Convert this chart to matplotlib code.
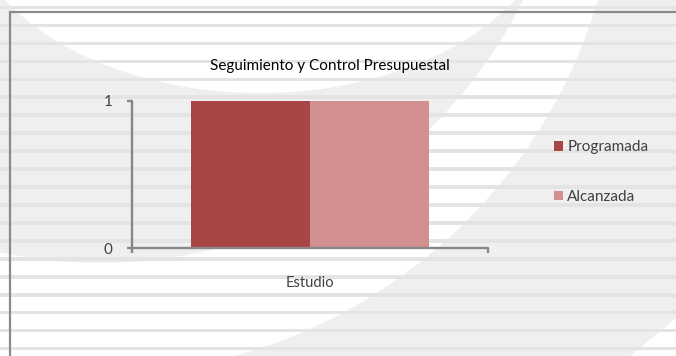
"""
Seguimiento y Control Presupuestal — bar chart on the striped report background.

Output
------
    out.png  (676 x 356 px)
"""

import matplotlib

matplotlib.use("Agg")
import matplotlib.pyplot as plt
import numpy as np
from matplotlib.patches import Circle, Ellipse, Polygon, Rectangle

# ---------------------------------------------------------------------------
# Data
# ---------------------------------------------------------------------------
CATEGORIES = ["Estudio"]
SERIES_NAMES = ["Programada", "Alcanzada"]
PROGRAMADA = [1]
ALCANZADA = [1]
Y_TICKS = [0, 1]
TITLE = "Seguimiento y Control Presupuestal"

# ---------------------------------------------------------------------------
# Style
# ---------------------------------------------------------------------------
W_PX, H_PX, DPI = 676, 356, 100
FONT = ["Lato", "DejaVu Sans"]
TEXT_COLOR = "#404040"
AXIS_COLOR = "#878787"
BAR_COLORS = ["#A84645", "#D29090"]
BG_GRAY = "#efefef"
STRIPE = "#e4e4e4"

plt.rcParams["font.family"] = FONT


def _px(x, y):
    """Pixel position (top-left origin) -> figure fraction."""
    return x / W_PX, 1.0 - y / H_PX


def _draw_background(fig):
    """Decorative curved bands and horizontal stripes behind the chart."""
    bg = fig.add_axes([0, 0, 1, 1], zorder=-10)
    bg.set_xlim(0, W_PX)
    bg.set_ylim(H_PX, 0)
    bg.axis("off")

    bg.add_patch(Rectangle((0, 0), W_PX, H_PX, color=BG_GRAY, lw=0))
    bg.add_patch(Circle((95, -150), 525, color="white", lw=0))
    bg.add_patch(Circle((100, -209), 472, color=BG_GRAY, lw=0))
    bg.add_patch(Ellipse((260, -100), 596, 386, color="white", lw=0))
    bg.add_patch(Polygon([(676, 318), (676, 356), (630, 356)], color="white", lw=0))

    for yc in np.arange(7.5, H_PX, 17.95):
        bg.add_patch(Rectangle((0, yc - 1.8), W_PX, 3.6, color=STRIPE, lw=0))

    # outer frame (only top and left edges fall inside the picture)
    bg.plot([10, 10, W_PX], [H_PX, 12, 12], color="#8a8a8a", lw=1.6,
            solid_joinstyle="miter")


def main() -> None:
    fig = plt.figure(figsize=(W_PX / DPI, H_PX / DPI), dpi=DPI, facecolor="white")
    _draw_background(fig)

    left, bottom = _px(132, 248)
    right, top = _px(488, 101)
    ax = fig.add_axes([left, bottom, right - left, top - bottom])
    ax.set_facecolor("none")

    x = np.arange(len(CATEGORIES))
    width = 1.0 / 3.0
    b1 = ax.bar(x - width / 2, PROGRAMADA, width, color=BAR_COLORS[0],
                label=SERIES_NAMES[0], zorder=2)
    b2 = ax.bar(x + width / 2, ALCANZADA, width, color=BAR_COLORS[1],
                label=SERIES_NAMES[1], zorder=2)

    ax.set_xlim(-0.5, len(CATEGORIES) - 0.5)
    ax.set_ylim(0, max(Y_TICKS))

    for side in ("top", "right"):
        ax.spines[side].set_visible(False)
    for side in ("left", "bottom"):
        ax.spines[side].set_color(AXIS_COLOR)
        ax.spines[side].set_linewidth(1.7)
        ax.spines[side].set_capstyle("round")

    ax.set_yticks(Y_TICKS)
    ax.set_yticklabels([str(v) for v in Y_TICKS])
    ax.tick_params(axis="y", length=3.8, width=1.7, color=AXIS_COLOR, pad=10,
                   labelsize=11, labelcolor=TEXT_COLOR)

    ax.set_xticks(np.arange(len(CATEGORIES) + 1) - 0.5)
    ax.set_xticklabels([])
    ax.tick_params(axis="x", which="major", length=3.8, width=1.7, color=AXIS_COLOR)
    ax.set_xticks(x, minor=True)
    ax.set_xticklabels(CATEGORIES, minor=True)
    ax.tick_params(axis="x", which="minor", length=0, pad=20,
                   labelsize=10.5, labelcolor=TEXT_COLOR)

    fig.text(*_px(330, 70), TITLE, ha="center", va="baseline",
             fontsize=11, color="black")

    leg = fig.legend(
        handles=[b1, b2], loc="upper left", bbox_to_anchor=_px(554, 140),
        bbox_transform=fig.transFigure, frameon=False, fontsize=11,
        handlelength=0.62, handleheight=0.62, handletextpad=0.25,
        labelspacing=2.35, borderpad=0, borderaxespad=0,
    )
    for t in leg.get_texts():
        t.set_color(TEXT_COLOR)

    fig.savefig("out.png", dpi=DPI, facecolor="white")
    plt.close(fig)


if __name__ == "__main__":
    main()
